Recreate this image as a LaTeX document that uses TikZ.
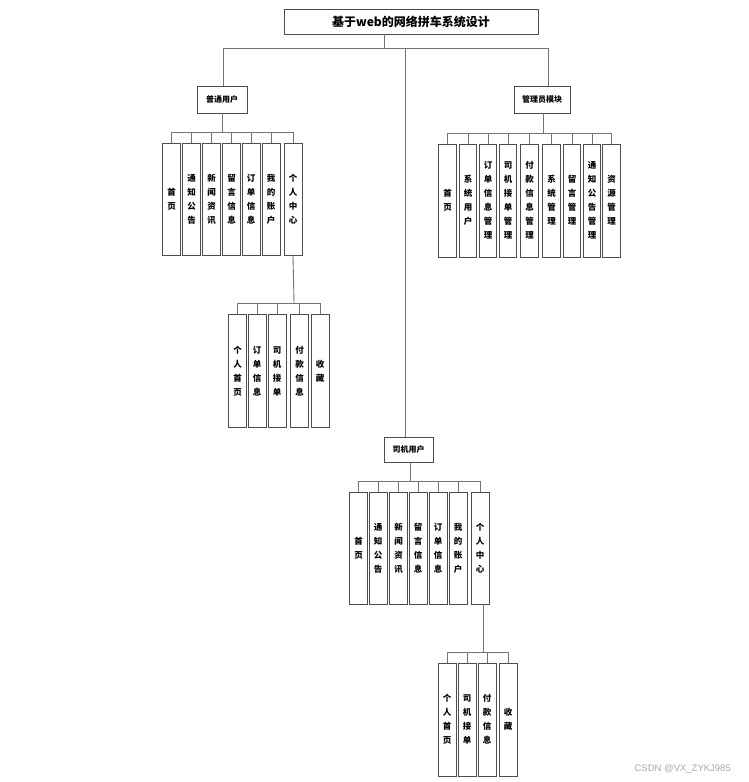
\documentclass[tikz,border=0pt]{standalone}
\usepackage{fontspec}
\newfontfamily\cjk{Noto Sans CJK SC}
\newfontfamily\markfont{Liberation Sans}
\begin{document}
\begin{tikzpicture}[x=1pt,y=-1pt,
  box/.style={draw=black!70,line width=0.9pt,inner sep=0pt,font=\cjk\bfseries},
  titlebox/.style={box,minimum width=254pt,minimum height=25pt,font=\cjk\bfseries\fontsize{12}{14}\selectfont},
  groupbox/.style={box,minimum height=27pt,font=\cjk\bfseries\fontsize{8}{10}\selectfont},
  itembox/.style={box,minimum width=18pt,minimum height=112pt,align=center,
    font=\cjk\bfseries\fontsize{8.5}{14}\selectfont},
  link/.style={draw=black!55,line width=0.9pt}]
\useasboundingbox (0,0) rectangle (748,782);

% title and first level
\node[titlebox] (t) at (411,21.5) {基于web的网络拼车系统设计};
\node[groupbox,minimum width=50pt] (u) at (222,99.5) {普通用户};
\node[groupbox,minimum width=56pt] (a) at (542,99.5) {管理员模块};
\node[groupbox,minimum width=49pt,minimum height=25pt] (d) at (408.5,449.5) {司机用户};

\coordinate (tb) at (384,48);
\coordinate (tbl) at (223,48);
\coordinate (tbm) at (405,48);
\coordinate (tbr) at (548,48);
\draw[link] (t.south -| tb) -- (tb);
\draw[link] (tbl) -- (tbr);
\draw[link] (tbl) -- (tbl |- u.north);
\draw[link] (tbr) -- (tbr |- a.north);
\draw[link] (tbm) -- (tbm |- d.north);

% ordinary user pages
\foreach \n/\x/\txt in {1/171.5/首\\页,2/191.5/通\\知\\公\\告,3/211.5/新\\闻\\资\\讯,
  4/231.5/留\\言\\信\\息,5/251/订\\单\\信\\息,6/271/我\\的\\账\\户,7/293/个\\人\\中\\心}
  \node[itembox] (u\n) at (\x,199) {\txt};
\coordinate (ub) at (222,132);
\draw[link] (u.south) -- (ub);
\draw[link] (u1.north |- ub) -- (u7.north |- ub);
\foreach \n in {1,...,7} \draw[link] (u\n.north) -- (u\n.north |- ub);

% ordinary user personal centre
\foreach \n/\x/\txt in {1/237.5/个\\人\\首\\页,2/257/订\\单\\信\\息,3/277/司\\机\\接\\单,
  4/299.5/付\\款\\信\\息,5/320/收\\藏}
  \node[itembox,minimum height=113pt] (p\n) at (\x,371) {\txt};
\coordinate (pb) at (294,303);
\draw[link] (u7.south) -- (pb);
\draw[link] (p1.north |- pb) -- (p5.north |- pb);
\foreach \n in {1,...,5} \draw[link] (p\n.north) -- (p\n.north |- pb);

% administrator module
\foreach \n/\x/\txt in {1/447.5/首\\页,2/468/系\\统\\用\\户,3/488/订\\单\\信\\息\\管\\理,
  4/508/司\\机\\接\\单\\管\\理,5/529.5/付\\款\\信\\息\\管\\理,6/551.5/系\\统\\管\\理,
  7/572/留\\言\\管\\理,8/592/通\\知\\公\\告\\管\\理,9/611.5/资\\源\\管\\理}
  \node[itembox,minimum width=17.5pt,minimum height=113pt] (a\n) at (\x,200.5) {\txt};
\coordinate (ab) at (543,133);
\draw[link] (a.south -| ab) -- (ab);
\draw[link] (a1.north |- ab) -- (a9.north |- ab);
\foreach \n in {1,...,9} \draw[link] (a\n.north) -- (a\n.north |- ab);

% driver pages
\foreach \n/\x/\txt in {1/358.5/首\\页,2/378/通\\知\\公\\告,3/398.5/新\\闻\\资\\讯,
  4/418/留\\言\\信\\息,5/438/订\\单\\信\\息,6/458/我\\的\\账\\户,7/480/个\\人\\中\\心}
  \node[itembox] (d\n) at (\x,548) {\txt};
\coordinate (db) at (410,481);
\draw[link] (d.south -| db) -- (db);
\draw[link] (d1.north |- db) -- (d7.north |- db);
\foreach \n in {1,...,7} \draw[link] (d\n.north) -- (d\n.north |- db);

% driver personal centre
\foreach \n/\x/\txt in {1/447/个\\人\\首\\页,2/467/司\\机\\接\\单,3/487/付\\款\\信\\息,4/508/收\\藏}
  \node[itembox,minimum height=113pt] (q\n) at (\x,719.5) {\txt};
\coordinate (qb) at (483,652);
\draw[link] (d7.south -| qb) -- (qb);
\draw[link] (q1.north |- qb) -- (q4.north |- qb);
\foreach \n in {1,...,4} \draw[link] (q\n.north) -- (q\n.north |- qb);

\node[anchor=east,inner sep=0pt,text=black!35,font=\markfont\fontsize{9.5}{11}\selectfont] (wm) at (731,769) {CSDN @VX\_ZYKJ985};
\end{tikzpicture}
\end{document}
